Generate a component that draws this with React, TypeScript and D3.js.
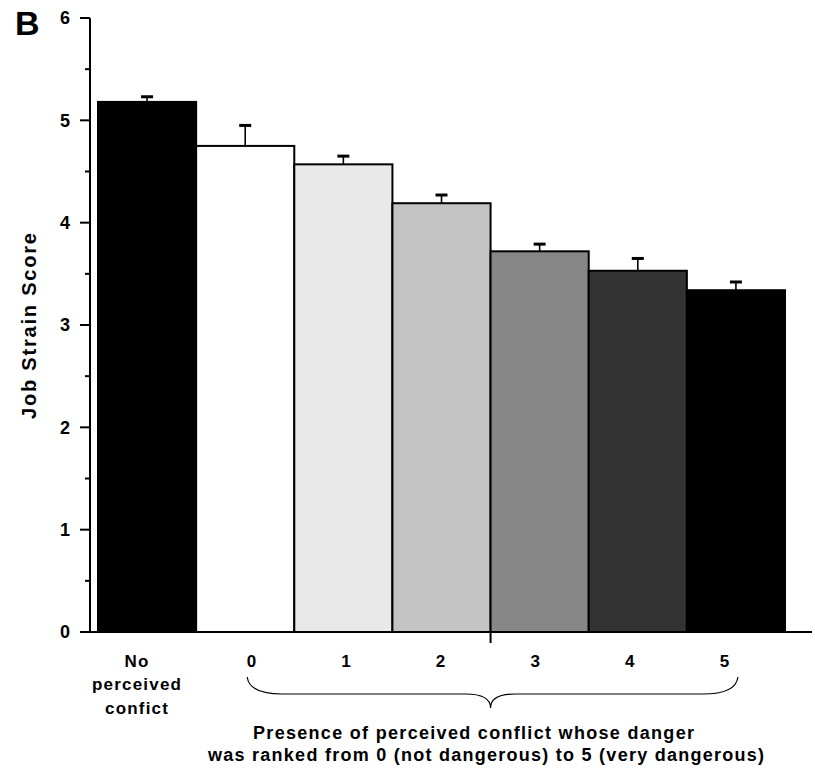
import React, { useEffect, useRef } from 'react'
import * as d3 from 'd3'

const categories = ['No', '0', '1', '2', '3', '4', '5']
const means = [5.18, 4.75, 4.57, 4.19, 3.72, 3.53, 3.34]
const upperErr = [5.24, 4.96, 4.66, 4.28, 3.8, 3.66, 3.43]
const fills = ['#000000', '#ffffff', '#e9e9e9', '#c4c4c4', '#878787', '#333333', '#000000']
const yTicks = [0, 1, 2, 3, 4, 5, 6]
const yMinorTicks = [0.5, 1.5, 2.5, 3.5, 4.5, 5.5]
const noLabelLines = ['No', 'perceived', 'confict']
const footLines = [
  'Presence of perceived conflict whose danger',
  'was ranked from 0 (not dangerous) to 5 (very dangerous)',
]

const FONT = 'Liberation Sans, Arial, sans-serif'

const App = () => {
  const ref = useRef<SVGSVGElement>(null)

  useEffect(() => {
    const svg = d3.select(ref.current)
    svg.selectAll('*').remove()

    const x = d3.scaleBand().domain(categories).range([98, 785]).padding(0)
    const y = d3.scaleLinear().domain([0, 6]).range([632, 18])
    // the rating labels sit a little off the bar centres in the original
    const xLab = d3.scalePoint().domain(categories.slice(1)).range([252, 725])

    // bars
    svg
      .append('g')
      .selectAll('rect')
      .data(categories)
      .enter()
      .append('rect')
      .attr('x', (d) => x(d))
      .attr('y', (d, i) => y(means[i]))
      .attr('width', x.bandwidth())
      .attr('height', (d, i) => y(0) - y(means[i]))
      .attr('fill', (d, i) => fills[i])
      .attr('stroke', '#000')
      .attr('stroke-width', 2)

    // error bars (upper only)
    const eb = svg.append('g').attr('stroke', '#000')
    categories.forEach((c, i) => {
      const cx = x(c) + x.bandwidth() / 2
      eb.append('line')
        .attr('x1', cx).attr('x2', cx)
        .attr('y1', y(means[i])).attr('y2', y(upperErr[i]))
        .attr('stroke-width', 1.6)
      eb.append('line')
        .attr('x1', cx - 6).attr('x2', cx + 6)
        .attr('y1', y(upperErr[i]) + 1).attr('y2', y(upperErr[i]) + 1)
        .attr('stroke-width', 3)
    })

    // y axis
    const ax = svg.append('g').attr('stroke', '#000')
    ax.append('line')
      .attr('x1', 90).attr('x2', 90)
      .attr('y1', y(6)).attr('y2', y(0))
      .attr('stroke-width', 2)
    ax.selectAll('line.major')
      .data(yTicks)
      .enter()
      .append('line')
      .attr('class', 'major')
      .attr('x1', 80).attr('x2', 90)
      .attr('y1', (d) => y(d)).attr('y2', (d) => y(d))
      .attr('stroke-width', 2)
    ax.selectAll('line.minor')
      .data(yMinorTicks)
      .enter()
      .append('line')
      .attr('class', 'minor')
      .attr('x1', 85).attr('x2', 90)
      .attr('y1', (d) => y(d)).attr('y2', (d) => y(d))
      .attr('stroke-width', 2)

    svg.append('g')
      .selectAll('text')
      .data(yTicks)
      .enter()
      .append('text')
      .attr('x', 70)
      .attr('y', (d) => y(d))
      .attr('dy', '0.36em')
      .attr('text-anchor', 'end')
      .attr('font-family', FONT)
      .attr('font-weight', 'bold')
      .attr('font-size', 18)
      .text((d) => d)

    // x axis
    svg.append('line')
      .attr('x1', 80).attr('x2', 812)
      .attr('y1', y(0)).attr('y2', y(0))
      .attr('stroke', '#000')
      .attr('stroke-width', 2)
    svg.append('line')
      .attr('x1', x('3')).attr('x2', x('3'))
      .attr('y1', y(0)).attr('y2', y(0) + 11)
      .attr('stroke', '#000')
      .attr('stroke-width', 2)

    // x labels
    const xl = svg.append('g')
      .attr('font-family', FONT)
      .attr('font-weight', 'bold')
      .attr('font-size', 17)
      .attr('letter-spacing', 1.2)
      .attr('text-anchor', 'middle')
    noLabelLines.forEach((t, k) => {
      xl.append('text')
        .attr('x', x('No') + x.bandwidth() / 2 - 10)
        .attr('y', [667, 690, 714][k])
        .text(t)
    })
    categories.slice(1).forEach((c) => {
      xl.append('text').attr('x', xLab(c)).attr('y', 667).text(c)
    })

    // brace
    const bx0 = x('0') + x.bandwidth() / 2 + 2
    const bx1 = x('5') + x.bandwidth() / 2 + 2
    const bm = x('3')
    const top = 677
    const mid = 694
    const tip = 708
    const brace = d3.path()
    brace.moveTo(bx0, top)
    brace.quadraticCurveTo(bx0 + 2, mid, bx0 + 35, mid)
    brace.lineTo(bm - 25, mid)
    brace.quadraticCurveTo(bm, mid, bm, tip)
    brace.quadraticCurveTo(bm, mid, bm + 25, mid)
    brace.lineTo(bx1 - 35, mid)
    brace.quadraticCurveTo(bx1 - 2, mid, bx1, top)
    svg.append('path')
      .attr('d', brace.toString())
      .attr('fill', 'none')
      .attr('stroke', '#000')
      .attr('stroke-width', 1.2)

    // footnote
    const footX = [253, 208]
    const footW = [441, 556]
    svg.append('g')
      .attr('font-family', FONT)
      .attr('font-weight', 'bold')
      .attr('font-size', 18)
      .selectAll('text')
      .data(footLines)
      .enter()
      .append('text')
      .attr('x', (d, i) => footX[i])
      .attr('y', (d, i) => [739, 761][i])
      .attr('textLength', (d, i) => footW[i])
      .attr('lengthAdjust', 'spacing')
      .text((d) => d)

    // y title
    svg.append('text')
      .attr('transform', `translate(36,326) rotate(-90)`)
      .attr('text-anchor', 'middle')
      .attr('font-family', FONT)
      .attr('font-weight', 'bold')
      .attr('font-size', 20)
      .attr('textLength', 186)
      .attr('lengthAdjust', 'spacing')
      .text('Job Strain Score')

    // panel letter
    svg.append('text')
      .attr('x', 15)
      .attr('y', 35)
      .attr('font-family', FONT)
      .attr('font-weight', 'bold')
      .attr('font-size', 34)
      .text('B')
  }, [])

  return (
    <div style={{ position: 'absolute', left: 0, top: 0 }}>
      <svg ref={ref} width={815} height={769} style={{ display: 'block', background: '#fff' }}></svg>
    </div>
  )
}

export default App
